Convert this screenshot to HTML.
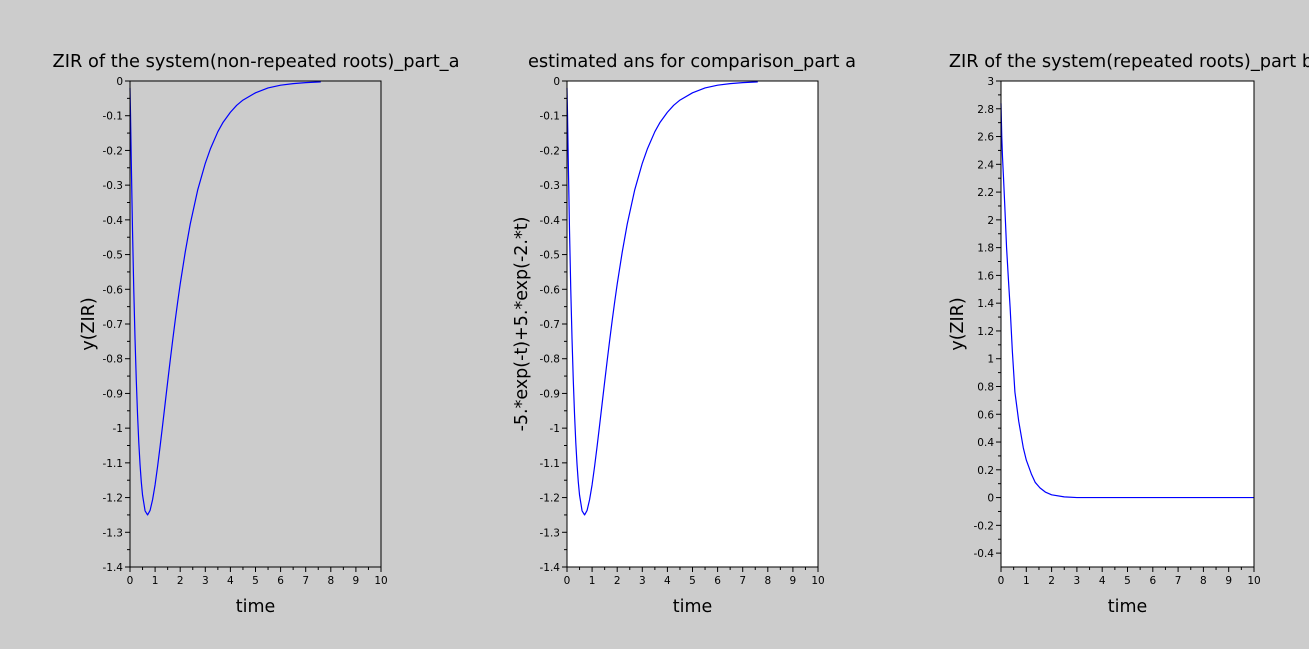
<!DOCTYPE html>
<html><head><meta charset="utf-8"><style>
html,body{margin:0;padding:0;background:#cccccc;}
svg{display:block;font-family:"DejaVu Sans","Liberation Sans",sans-serif;}
</style></head><body>
<svg id="fig" width="1309" height="649" viewBox="0 0 1309 649" xmlns="http://www.w3.org/2000/svg">
<rect x="0" y="0" width="1309" height="649" fill="#cccccc"/>
</svg>
<script>
const tA = [0,0.02,0.05,0.1,0.15,0.2,0.25,0.3,0.35,0.4,0.45,0.5,0.6,0.7,0.8,0.9,1.0,1.1,1.2,1.3,1.4,1.5,1.6,1.7,1.8,1.9,2.0,2.2,2.4,2.7,3.0,3.2,3.5,3.7,4.0,4.25,4.5,5.0,5.5,6.0,6.5,7.0,7.6];
const yA = [-0.02,-0.093,-0.226,-0.430,-0.600,-0.742,-0.861,-0.960,-1.041,-1.105,-1.155,-1.193,-1.238,-1.250,-1.237,-1.206,-1.163,-1.110,-1.052,-0.991,-0.929,-0.867,-0.806,-0.747,-0.690,-0.636,-0.585,-0.493,-0.412,-0.313,-0.237,-0.196,-0.146,-0.120,-0.090,-0.070,-0.055,-0.034,-0.020,-0.012,-0.0075,-0.0046,-0.0025];
const tB = [0,0.03,0.06,0.1,0.15,0.22,0.29,0.36,0.45,0.55,0.7,0.88,1.0,1.2,1.35,1.54,1.75,2.0,2.5,3.0,10];
const yB = [2.84,2.6,2.45,2.3,2.1,1.8,1.58,1.37,1.05,0.76,0.55,0.36,0.27,0.17,0.11,0.07,0.04,0.02,0.005,0,0];
const xTicks = [0,1,2,3,4,5,6,7,8,9,10];
const yTicksA = [0,-0.1,-0.2,-0.3,-0.4,-0.5,-0.6,-0.7,-0.8,-0.9,-1,-1.1,-1.2,-1.3,-1.4];
const yTicksB = [3,2.8,2.6,2.4,2.2,2,1.8,1.6,1.4,1.2,1,0.8,0.6,0.4,0.2,0,-0.2,-0.4];

const NS="http://www.w3.org/2000/svg";
const svg=document.getElementById('fig');
function mk(tag,attrs,parent){const e=document.createElementNS(NS,tag);for(const k in attrs)e.setAttribute(k,attrs[k]);(parent||svg).appendChild(e);return e;}

function plot(cfg){
  const g=mk('g',{});
  
  
  const {x0,x1,y0,y1,ymin,ymax}=cfg;
  const sx=v=>x0+(v-0)/(10-0)*(x1-x0);
  const sy=v=>y1-(v-ymin)/(ymax-ymin)*(y1-y0);
  const bg=mk('rect',{x:x0,y:y0,width:x1-x0,height:y1-y0,fill:cfg.bg},g);
  
  
  let d='';
  cfg.t.forEach((t,i)=>{d+=(i?'L':'M')+sx(t).toFixed(2)+','+sy(cfg.y[i]).toFixed(2);});
  const p=mk('path',{d:d,fill:'none',stroke:'#0000ff','stroke-width':1.2,'stroke-linejoin':'round'},g);
  
  
  const fr=mk('rect',{x:x0,y:y0,width:x1-x0,height:y1-y0,fill:'none',stroke:'#000','stroke-width':1},g);
  
  
  xTicks.forEach((v,i)=>{
    const x=sx(v);
    mk('line',{x1:x,y1:y1,x2:x,y2:y1+5,stroke:'#000'},g);
    if(i<xTicks.length-1){const xm=sx(v+0.5);mk('line',{x1:xm,y1:y1,x2:xm,y2:y1+3,stroke:'#000'},g);}
    const tx=mk('text',{x:x,y:y1+17,'font-size':10.5,'text-anchor':'middle',fill:'#000'},g);
    tx.textContent=String(v);
    
    
  });
  const yt=cfg.yTicks;
  yt.forEach((v,i)=>{
    const y=sy(v);
    mk('line',{x1:x0-5,y1:y,x2:x0,y2:y,stroke:'#000'},g);
    if(i<yt.length-1){const ym=sy((v+yt[i+1])/2);mk('line',{x1:x0-3,y1:ym,x2:x0,y2:ym,stroke:'#000'},g);}
    const tx=mk('text',{x:x0-7,y:y+4,'font-size':10.5,'text-anchor':'end',fill:'#000'},g);
    tx.textContent=String(Math.round(v*10)/10);
    
    
  });
  const ti=mk('text',{x:cfg.titleX,y:67,'font-size':17.8,'text-anchor':'middle',fill:'#000'},g);
  ti.textContent=cfg.title;
  
  
  const xl=mk('text',{x:(x0+x1)/2,y:612,'font-size':17.5,'text-anchor':'middle',fill:'#000'},g);
  xl.textContent='time';
  
  
  const yl=mk('text',{x:0,y:0,'font-size':17.5,'text-anchor':'middle',fill:'#000',transform:`translate(${cfg.ylx},${(y0+y1)/2}) rotate(-90)`},g);
  yl.textContent=cfg.ylabel;
  
  
}
plot({name:'plot-zir-nonrepeated',x0:130,x1:381,y0:81,y1:567,ymin:-1.4,ymax:0,bg:'#cccccc',t:tA,y:yA,yTicks:yTicksA,title:'ZIR of the system(non-repeated roots)_part_a',titleX:256,ylabel:'y(ZIR)',ylx:94});
plot({name:'plot-estimated',x0:567,x1:818,y0:81,y1:567,ymin:-1.4,ymax:0,bg:'#ffffff',t:tA,y:yA,yTicks:yTicksA,title:'estimated ans for comparison_part a',titleX:692,ylabel:'-5.*exp(-t)+5.*exp(-2.*t)',ylx:527});
plot({name:'plot-zir-repeated',x0:1001,x1:1254,y0:81,y1:567,ymin:-0.5,ymax:3,bg:'#ffffff',t:tB,y:yB,yTicks:yTicksB,title:'ZIR of the system(repeated roots)_part b',titleX:1131,ylabel:'y(ZIR)',ylx:963});
</script>
</body></html>
